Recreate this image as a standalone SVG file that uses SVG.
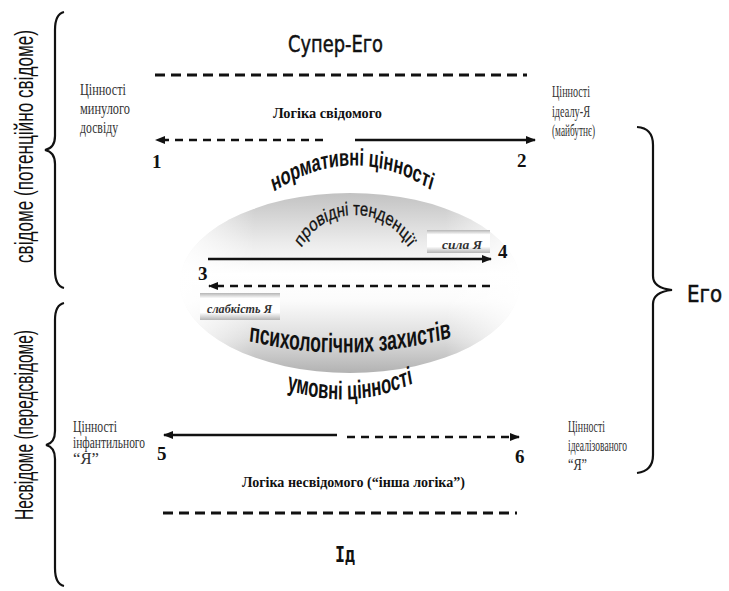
<svg xmlns="http://www.w3.org/2000/svg" width="729" height="591" viewBox="0 0 729 591">
<style>
.lbl{font-family:"Liberation Serif","Times New Roman",serif;font-size:16px;fill:#333}
.bl{font-family:"Liberation Serif","Times New Roman",serif;font-weight:bold;font-size:15px;fill:#111}
.num{font-family:"Liberation Serif","Times New Roman",serif;font-weight:bold;font-size:19px;fill:#111}
.arc{font-family:"Liberation Sans",Arial,sans-serif;font-weight:bold;fill:#111}
.arcr{font-family:"Liberation Sans",Arial,sans-serif;fill:#111;stroke:#111;stroke-width:0.3}
.side{font-family:"Liberation Sans",Arial,sans-serif;font-size:17px;fill:#111}
.title{font-family:"DejaVu Sans",sans-serif;font-size:23px;fill:#111;stroke:#111;stroke-width:0.5}
.it{font-family:"Liberation Serif","Times New Roman",serif;font-style:italic;font-weight:bold;font-size:13px;fill:#333}
.brace{fill:none;stroke:#111;stroke-width:2.2}
.sol{stroke:#111;stroke-width:2.5;fill:none}
.dsh{stroke:#111;stroke-width:2.5;stroke-dasharray:8 6;fill:none}
.dl{stroke:#111;stroke-width:3;stroke-dasharray:10 6}
</style>
<defs>
<marker id="ah" viewBox="0 0 10 8" refX="9" refY="4" markerWidth="10" markerHeight="8" markerUnits="userSpaceOnUse" orient="auto">
<path d="M0,0 L10,4 L0,8 z" fill="#111"/>
</marker>
<linearGradient id="gv" x1="0" y1="0" x2="0" y2="1">
<stop offset="0" stop-color="#c2c2c2"/>
<stop offset="0.28" stop-color="#ececec"/>
<stop offset="0.45" stop-color="#ffffff"/>
<stop offset="0.6" stop-color="#fbfbfb"/>
<stop offset="0.8" stop-color="#dedede"/>
<stop offset="1" stop-color="#b2b2b2"/>
</linearGradient>
<linearGradient id="gh" x1="0" y1="0" x2="1" y2="0">
<stop offset="0" stop-color="#ffffff" stop-opacity="0.9"/>
<stop offset="0.22" stop-color="#ffffff" stop-opacity="0"/>
<stop offset="0.78" stop-color="#ffffff" stop-opacity="0"/>
<stop offset="1" stop-color="#ffffff" stop-opacity="0.9"/>
</linearGradient>
<linearGradient id="gb" x1="0" y1="0" x2="0" y2="1">
<stop offset="0" stop-color="#b5b5b5"/>
<stop offset="0.2" stop-color="#ffffff"/>
<stop offset="0.72" stop-color="#ffffff"/>
<stop offset="1" stop-color="#b5b5b5"/>
</linearGradient>
<path id="p1" d="M 389.7 198 Q 517.6 134 647.1 196"/>
<path id="p2" d="M 378.2 275 A 76.9 60 0 0 1 532 275"/>
<path id="p3" d="M 369.2 339 Q 538.5 368 707.7 335"/>
<path id="p4" d="M 437.5 387 Q 546.9 415 656.3 380"/>
</defs>
<rect width="729" height="591" fill="#ffffff"/>

<g id="ego-core">
<ellipse cx="350" cy="283" rx="170" ry="90" fill="url(#gv)"/>
<ellipse cx="350" cy="283" rx="170" ry="90" fill="url(#gh)"/>
</g>

<g id="left-brace-conscious">
<path class="brace" d="M 64 12 Q 55 14 55 30 L 55 136 Q 55 148 45 150 Q 55 152 55 164 L 55 270 Q 55 286 64 288"/>
<text class="side" transform="translate(33,263) rotate(-90) scale(1,1.5)" x="0" y="0" textLength="233" lengthAdjust="spacingAndGlyphs">свідоме (потенційно свідоме)</text>
</g>
<g id="left-brace-unconscious">
<path class="brace" d="M 64 303 Q 55 305 55 320 L 55 431 Q 55 443 46 445 Q 55 447 55 459 L 55 568 Q 55 584 64 586"/>
<text class="side" transform="translate(33,520) rotate(-90) scale(1,1.5)" x="0" y="0" textLength="190" lengthAdjust="spacingAndGlyphs">Несвідоме (передсвідоме)</text>
</g>
<g id="right-brace-ego">
<path class="brace" d="M 637 127 Q 653 128 653 145 L 653 276 Q 653 288 672 290 Q 653 292 653 304 L 653 455 Q 653 471 637 473"/>
<text class="title" x="687" y="302" textLength="35" lengthAdjust="spacingAndGlyphs">Его</text>
</g>

<g id="super-ego">
<text class="title" x="288" y="52" textLength="95" lengthAdjust="spacingAndGlyphs">Супер-Его</text>
</g>
<g id="id">
<text x="335" y="562" font-family="DejaVu Sans Mono, monospace" font-weight="bold" font-size="22" fill="#111" textLength="20" lengthAdjust="spacingAndGlyphs">Ід</text>
</g>

<g id="past-values">
<text class="lbl" transform="translate(80,95) scale(0.72,1)" textLength="63.9" lengthAdjust="spacingAndGlyphs">Цінності</text>
<text class="lbl" transform="translate(80,114) scale(0.72,1)" textLength="69.4" lengthAdjust="spacingAndGlyphs">минулого</text>
<text class="lbl" transform="translate(80,133) scale(0.72,1)" textLength="52.8" lengthAdjust="spacingAndGlyphs">досвіду</text>
</g>
<g id="ideal-values">
<text class="lbl" transform="translate(552,97) scale(0.72,1)" textLength="52.8" lengthAdjust="spacingAndGlyphs">Цінності</text>
<text class="lbl" transform="translate(552,117) scale(0.72,1)" textLength="52.8" lengthAdjust="spacingAndGlyphs">ідеалу-Я</text>
<text class="lbl" transform="translate(552,136) scale(0.72,1)" textLength="59.7" lengthAdjust="spacingAndGlyphs">(майбутнє)</text>
</g>
<g id="infantile-values">
<text class="lbl" transform="translate(73,432) scale(0.72,1)" textLength="61.1" lengthAdjust="spacingAndGlyphs">Цінності</text>
<text class="lbl" transform="translate(73,448) scale(0.72,1)" textLength="100" lengthAdjust="spacingAndGlyphs">інфантильного</text>
<text class="lbl" transform="translate(73,464) scale(0.72,1)" textLength="36.1" lengthAdjust="spacingAndGlyphs">“Я”</text>
</g>
<g id="idealized-values">
<text class="lbl" transform="translate(568,432) scale(0.72,1)" textLength="51.4" lengthAdjust="spacingAndGlyphs">Цінності</text>
<text class="lbl" transform="translate(568,451) scale(0.72,1)" textLength="81.9" lengthAdjust="spacingAndGlyphs">ідеалізованого</text>
<text class="lbl" transform="translate(568,470) scale(0.72,1)" textLength="26.4" lengthAdjust="spacingAndGlyphs">“Я”</text>
</g>

<g id="logic-conscious">
<text class="bl" x="273" y="118" textLength="109" lengthAdjust="spacingAndGlyphs">Логіка свідомого</text>
</g>
<g id="logic-unconscious">
<text class="bl" x="242" y="487" textLength="223" lengthAdjust="spacingAndGlyphs">Логіка несвідомого (“інша логіка”)</text>
</g>

<g id="normative-values">
<g transform="scale(0.68,1)"><text class="arc" font-size="24"><textPath href="#p1" startOffset="50%" text-anchor="middle">нормативні цінності</textPath></text></g>
</g>
<g id="leading-tendencies">
<g transform="scale(0.78,1)"><text class="arcr" font-size="19"><textPath href="#p2" startOffset="50%" text-anchor="middle">провідні тенденції</textPath></text></g>
</g>
<g id="defenses">
<g transform="scale(0.65,1)"><text class="arc" font-size="27"><textPath href="#p3" startOffset="50%" text-anchor="middle">психологічних захистів</textPath></text></g>
</g>
<g id="conditional-values">
<g transform="scale(0.64,1)"><text class="arc" font-size="26"><textPath href="#p4" startOffset="50%" text-anchor="middle">умовні цінності</textPath></text></g>
</g>

<g id="strength">
<rect x="427" y="230" width="63" height="23" fill="url(#gb)"/>
<text class="it" x="442" y="249" textLength="40" lengthAdjust="spacingAndGlyphs">сила Я</text>
</g>
<g id="weakness">
<rect x="200" y="293" width="80" height="27" fill="url(#gb)"/>
<text class="it" x="207" y="313" textLength="65" lengthAdjust="spacingAndGlyphs">слабкість Я</text>
</g>

<g id="points">
<text class="num" x="152" y="168">1</text>
<text class="num" x="517" y="167">2</text>
<text class="num" x="198" y="280">3</text>
<text class="num" x="498" y="258">4</text>
<text class="num" x="157" y="460">5</text>
<text class="num" x="515" y="463">6</text>
</g>

<g id="connectors">
<line class="dl" x1="155" y1="75" x2="527" y2="75"/>
<line class="dl" x1="163" y1="513" x2="517" y2="513"/>
<line class="dsh" x1="323" y1="140" x2="156" y2="140" marker-end="url(#ah)"/>
<line class="sol" x1="355" y1="140" x2="535" y2="140" marker-end="url(#ah)"/>
<line class="sol" x1="208" y1="259" x2="491" y2="259" marker-end="url(#ah)"/>
<line class="dsh" x1="490" y1="286" x2="209" y2="286" marker-end="url(#ah)"/>
<line class="sol" x1="337" y1="435" x2="164" y2="435" marker-end="url(#ah)"/>
<line class="dsh" x1="347" y1="437" x2="519" y2="437" marker-end="url(#ah)"/>
</g>
</svg>
